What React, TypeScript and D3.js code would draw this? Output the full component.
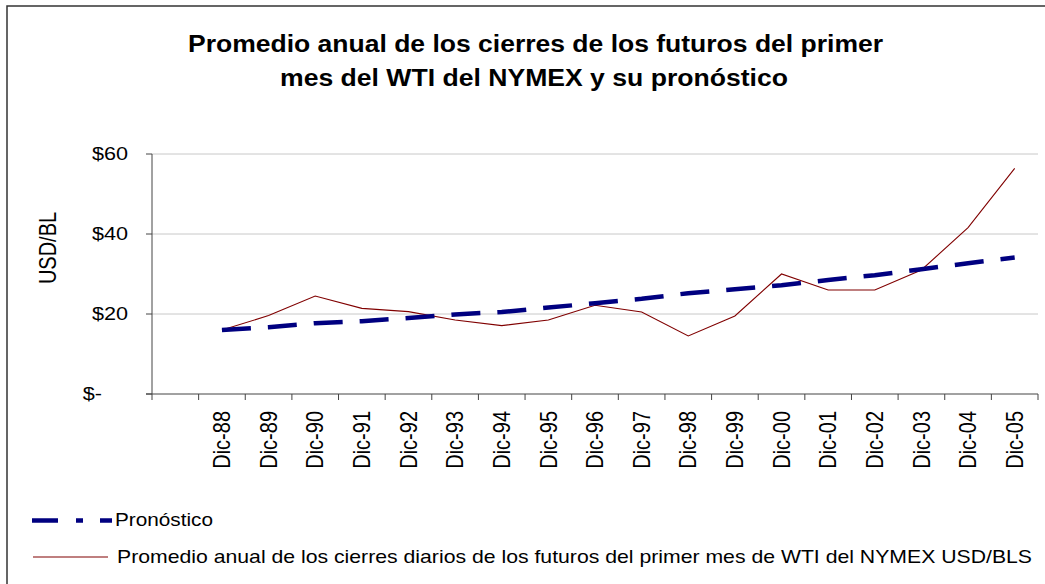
import React from "react";
import * as d3 from "d3";

const categories = ["", "Dic-88", "Dic-89", "Dic-90", "Dic-91", "Dic-92", "Dic-93", "Dic-94", "Dic-95", "Dic-96", "Dic-97", "Dic-98", "Dic-99", "Dic-00", "Dic-01", "Dic-02", "Dic-03", "Dic-04", "Dic-05"];
const yearLabels = categories.slice(1);
const actual = [16.0, 19.6, 24.5, 21.4, 20.6, 18.5, 17.1, 18.5, 22.2, 20.5, 14.5, 19.5, 30.0, 26.0, 26.0, 31.0, 41.6, 56.4];
const forecast = [16.0, 16.7, 17.7, 18.2, 19.0, 19.9, 20.5, 21.6, 22.7, 23.8, 25.2, 26.2, 27.2, 28.5, 29.7, 31.2, 32.7, 34.1];
const yTicks = [0, 20, 40, 60];
const titleLines = ["Promedio anual de los cierres de los futuros del primer", "mes del WTI del NYMEX y su pronóstico"];
const yAxisLabel = "USD/BL";
const legendForecast = "Pronóstico";
const legendActual = "Promedio anual de los cierres diarios de los futuros del primer mes de WTI del NYMEX USD/BLS";

const FONT = "'Liberation Sans', Arial, Helvetica, sans-serif";
const SX = 1.17;

export default function App() {
  const left = 152, right = 1038, top = 154, bottom = 394;
  const x = d3.scaleBand<string>().domain(categories).range([left, right]).padding(0);
  const y = d3.scaleLinear().domain([0, 60]).range([bottom, top]);
  const bw = x.bandwidth();
  const cx = (c: string) => (x(c) as number) + bw / 2;

  const line = d3.line<number>().x((_, i) => cx(yearLabels[i])).y((d) => y(d));
  const boundaries = categories.map((c) => x(c) as number).concat([right]);

  return (
    <svg width={1045} height={584} style={{ position: "absolute", left: 0, top: 0, background: "#fff" }} fontFamily={FONT}>
      <rect x={7} y={6} width={1100} height={700} fill="#fff" stroke="#333" strokeWidth={1.5} />
      {titleLines.map((t, i) => (
        <text key={i} x={i === 0 ? 188 : 280} y={i === 0 ? 52 : 86} fontSize={23} fontWeight="bold" fill="#000"
          textLength={i === 0 ? 695 : 508} lengthAdjust="spacingAndGlyphs">{t}</text>
      ))}
      {yTicks.filter((t) => t > 0).map((t) => (
        <line key={t} x1={left} x2={right} y1={y(t)} y2={y(t)} stroke="#c8c8c8" strokeWidth={1} />
      ))}
      <line x1={left} x2={left} y1={top} y2={bottom} stroke="#444" strokeWidth={1} />
      {yTicks.map((t) => (
        <g key={t}>
          <line x1={left - 6} x2={left} y1={y(t)} y2={y(t)} stroke="#444" />
          <g transform={`translate(${t === 0 ? 102 : 128},${y(t)}) scale(${SX},1)`}>
            <text textAnchor="end" dy="0.35em" fontSize={18.5} fill="#000">{t === 0 ? "$-" : `$${t}`}</text>
          </g>
        </g>
      ))}
      <line x1={left - 6} x2={right} y1={bottom} y2={bottom} stroke="#444" strokeWidth={1} />
      {boundaries.map((b, i) => (
        <line key={i} x1={b} x2={b} y1={bottom} y2={bottom + 6} stroke="#444" />
      ))}
      {yearLabels.map((c) => (
        <g key={c} transform={`translate(${cx(c)},411) scale(${SX},1) rotate(-90)`}>
          <text textAnchor="end" dy="0.35em" fontSize={20} fill="#000">{c}</text>
        </g>
      ))}
      <g transform={`translate(48,248) scale(${SX},1) rotate(-90)`}>
        <text textAnchor="middle" dy="0.35em" fontSize={20} fill="#000">{yAxisLabel}</text>
      </g>
      <path d={line(actual) || ""} fill="none" stroke="#800000" strokeWidth={1.1} />
      <path d={line(forecast) || ""} fill="none" stroke="#000080" strokeWidth={4.5} strokeDasharray="29 17" />
      <path d="M32,520.5H112" stroke="#000080" strokeWidth={4.5} strokeDasharray="26 18 7 17 12" fill="none" />
      <text x={115} y={526} fontSize={18.5} fill="#000" textLength={98} lengthAdjust="spacingAndGlyphs">{legendForecast}</text>
      <path d="M33,557H108" stroke="#800000" strokeWidth={1.2} fill="none" />
      <text x={117} y={563} fontSize={18.5} fill="#000" textLength={915} lengthAdjust="spacingAndGlyphs">{legendActual}</text>
    </svg>
  );
}
